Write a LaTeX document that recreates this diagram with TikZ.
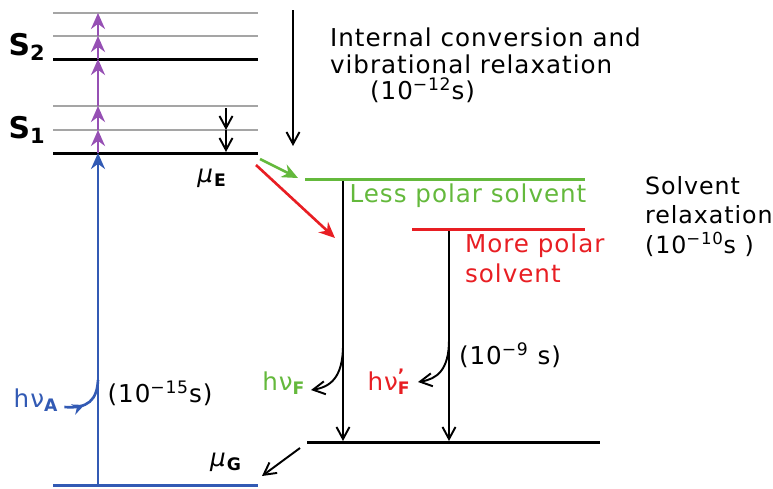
\documentclass[tikz,border=0pt]{standalone}
\usepackage{fontspec}
\setmainfont{DejaVu Sans}[LetterSpace=4]
\usetikzlibrary{arrows.meta,decorations.markings}

\definecolor{pumpviolet}{RGB}{150,80,180}
\definecolor{absblue}{RGB}{50,90,180}
\definecolor{lessgreen}{RGB}{100,185,60}
\definecolor{morered}{RGB}{232,30,35}
\definecolor{vibgray}{RGB}{165,165,165}

\begin{document}
\begin{tikzpicture}[x=0.02cm,y=-0.02cm,>={Stealth[length=3.2mm,width=2.8mm]},
  level/.style={line width=1.7pt},
  sublevel/.style={vibgray,line width=1.6pt},
  pump/.style={->,pumpviolet,line width=1.7pt},
  decay/.style={-{Straight Barb[length=2.4mm,width=2.6mm,line width=1.1pt]},line width=1.1pt},
  lbl/.style={font=\fontsize{14}{16}\selectfont,inner sep=1pt},
  state/.style={font=\fontsize{17}{19}\selectfont\bfseries,inner sep=1pt}
]
\useasboundingbox (0,0) rectangle (773,488);

% S1 and S2 manifolds
\draw[sublevel] (53,13) -- (258,13);
\draw[sublevel] (53,36) -- (258,36);
\draw[level] (53,59) -- (258,59);
\draw[sublevel] (53,106) -- (258,106);
\draw[sublevel] (53,130) -- (258,130);
\draw[level] (53,153) coordinate (s1L) -- (258,153) coordinate (s1R);
\node[state] (S2) at (27,47) {S\textsubscript{2}};
\node[state] (S1) at (27,130) {S\textsubscript{1}};

% ground state
\draw[absblue,level] (53,485) coordinate (g0L) -- (258,485) coordinate (g0R);
\node[lbl] (muG) at (226,462) {\textit{μ}\textsubscript{\bfseries G}};
\node[lbl] (muE) at (212,178) {\textit{μ}\textsubscript{\bfseries E}};

% absorption and pumping
\foreach \y/\n in {153/0,130/1,106/2,59/3,36/4,13/5}
  \coordinate (p\n) at (98,\y);
\draw[->,absblue,line width=1.7pt] (98,485) coordinate (gA) -- (p0);
\foreach \i [evaluate=\i as \j using int(\i+1)] in {0,...,4}
  \draw[pump] (p\i) -- (p\j);
\node[lbl,text=absblue] (hA) at (36,400) {hν\textsubscript{\bfseries A}};
\coordinate (hAjoin) at (98,380);
\draw[absblue,line width=1.5pt,postaction={decorate},
  decoration={markings,mark=at position 0.4 with {\arrow{Stealth[length=2.4mm,width=2.2mm]}}}]
  (hA.east) ++(4,7) .. controls (88,409) and (97,400) .. (hAjoin);
\node[lbl] (tA) at (160,393) {(10\textsuperscript{−15}s)};

% vibrational relaxation
\coordinate (v1) at (226,108);
\coordinate (v2) at (226,130);
\coordinate (v3) at (226,152);
\draw[decay] (v1) -- (v2);
\draw[decay] (v2) -- (v3);
\coordinate (icT) at (293,10);
\coordinate (icB) at (293,146);
\draw[decay] (icT) -- (icB);
\node[lbl,anchor=west] (ic1) at (328,37) {Internal conversion and};
\node[lbl,anchor=west] (ic2) at (328,64) {vibrational relaxation};
\node[lbl,anchor=west] (ic3) at (368,90) {(10\textsuperscript{−12}s)};

% solvent relaxed states
\draw[lessgreen,level] (305,179) coordinate (lessL) -- (585,179) coordinate (lessR);
\draw[morered,level] (412,229) coordinate (moreL) -- (585,229) coordinate (moreR);
\coordinate (relG) at (260,159);
\coordinate (relR) at (256,165);
\draw[->,lessgreen,line width=1.5pt] (relG) -- (298,178) coordinate (lessTip);
\draw[->,morered,line width=1.5pt] (relR) -- (335,238) coordinate (moreTip);
\node[lbl,text=lessgreen] (less) at (468,196) {Less polar solvent};
\node[lbl,text=morered,anchor=west] (more1) at (463,246) {More polar};
\node[lbl,text=morered,anchor=west] (more2) at (463,273) {solvent};
\node[lbl,anchor=west,font=\fontsize{13.5}{15}\selectfont] (sr1) at (643,186) {Solvent};
\node[lbl,anchor=west,font=\fontsize{13.5}{15}\selectfont] (sr2) at (643,215) {relaxation};
\node[lbl,anchor=west,font=\fontsize{13.5}{15}\selectfont] (sr3) at (643,244) {(10\textsuperscript{−10}s )};

% emission
\draw[level] (307,442) coordinate (g1L) -- (600,442) coordinate (g1R);
\coordinate (fT) at (343,181);
\coordinate (fB) at (343,441);
\coordinate (fpT) at (449,231);
\coordinate (fpB) at (449,441);
\draw[decay] (fT) -- (fB);
\draw[decay] (fpT) -- (fpB);
\coordinate (fC) at (343,345);
\coordinate (fpC) at (449,340);
\coordinate (fE) at (311,390);
\coordinate (fpE) at (418,382);
\node[lbl,text=lessgreen,anchor=east] (hF) at (fE) [xshift=-2pt,yshift=4pt] {hν\textsubscript{\bfseries F}};
\node[lbl,text=morered,anchor=east] (hFp) at (fpE) [xshift=-3pt,yshift=0pt] {hν\rlap{\textsuperscript{\bfseries ’}}\textsubscript{\bfseries F}};
\draw[decay] (fC) .. controls (343,378) and (330,387) .. (fE);
\draw[decay] (fpC) .. controls (449,370) and (437,379) .. (fpE);
\node[lbl] (tF) at (510,355) {(10\textsuperscript{−9} s)};
\coordinate (back) at (300,448);
\coordinate (backTip) at (262,476);
\draw[decay] (back) -- (backTip);
\end{tikzpicture}
\end{document}
